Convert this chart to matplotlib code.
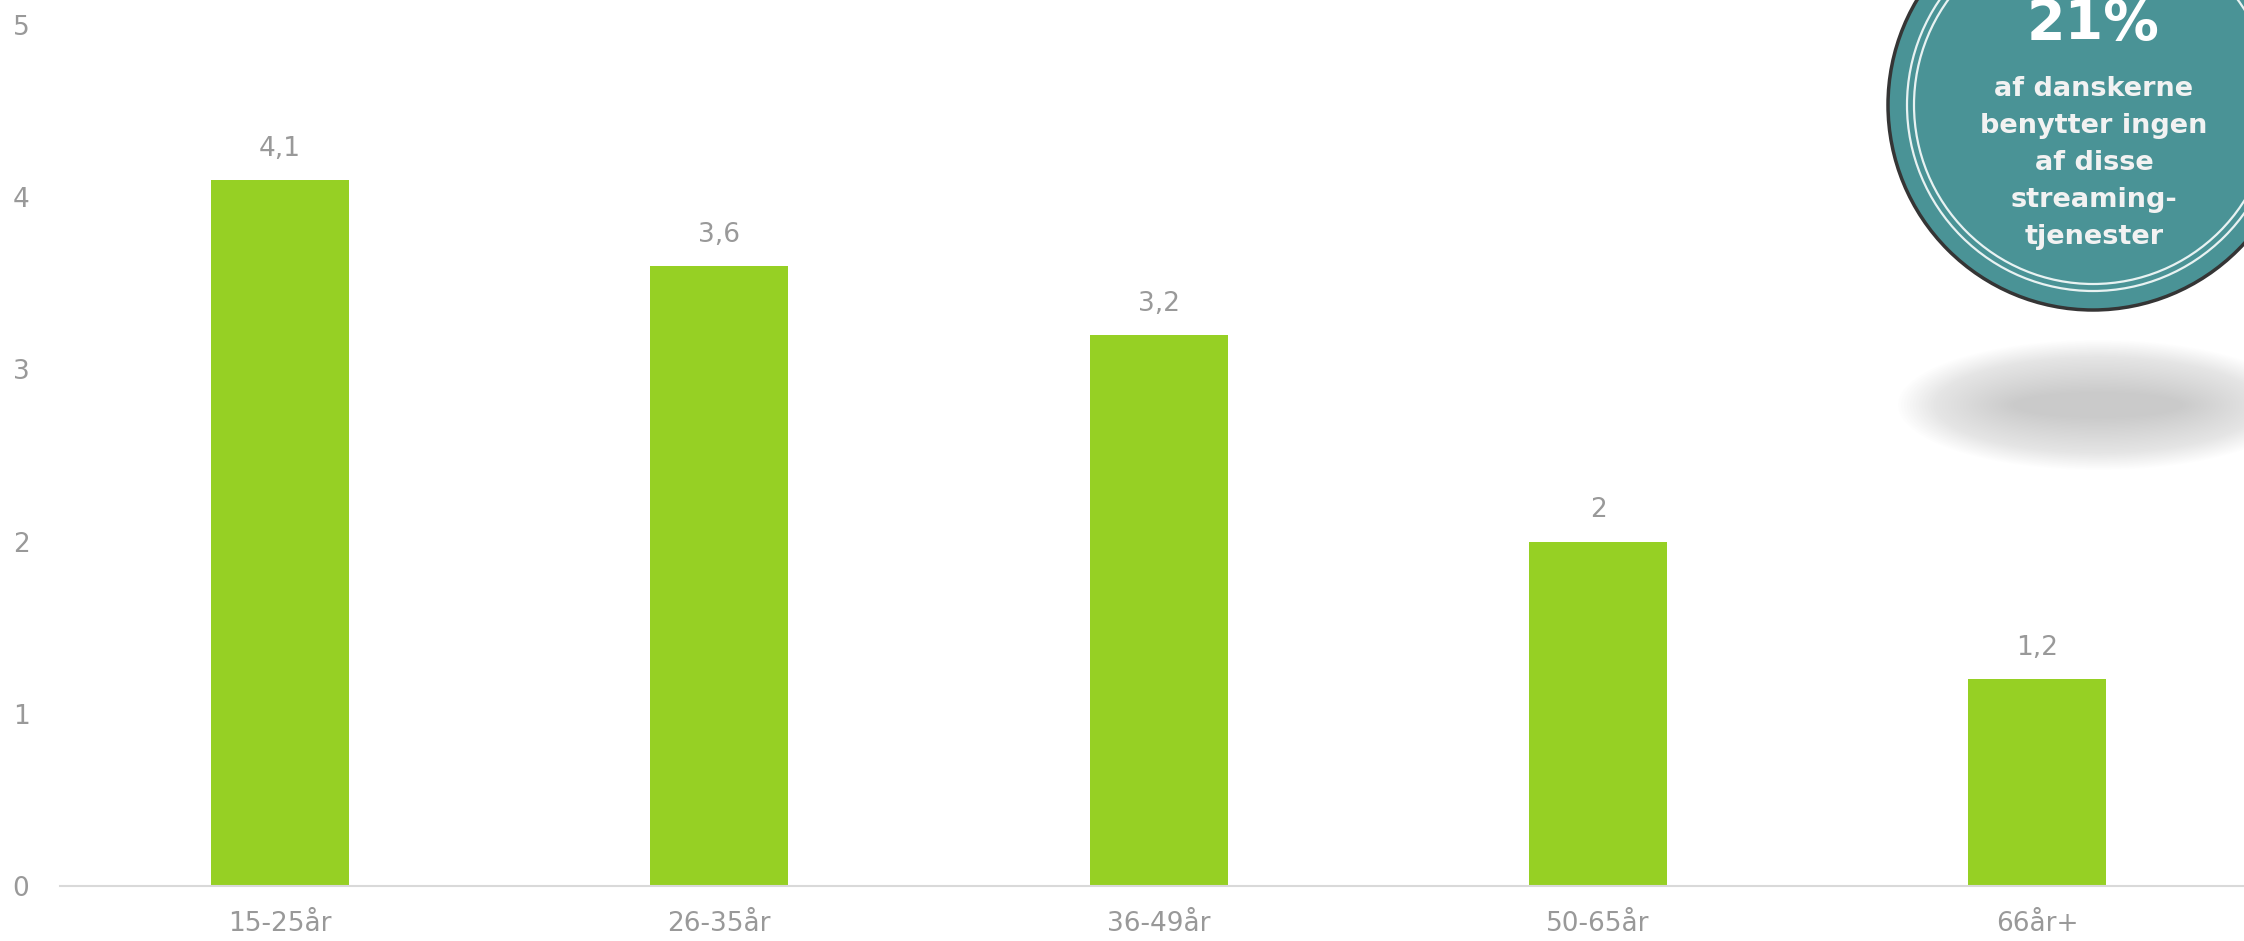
import matplotlib.pyplot as plt
from matplotlib.patches import Circle, Ellipse

# -- data
categories = ['15-25år', '26-35år', '36-49år', '50-65år', '66år+']
values = [4.1, 3.6, 3.2, 2.0, 1.2]
yticks = [0, 1, 2, 3, 4, 5]
badge_big = '21%'
badge_text = ['af danskerne', 'benytter ingen', 'af disse', 'streaming-', 'tjenester']

W, H = 2244, 941
bar_color = '#96d024'
grey = '#999999'

fig = plt.figure(figsize=(W / 100, H / 100), dpi=100)
ax = fig.add_axes([60 / W, 55 / H, (W - 60) / W, 886 / H])

x = list(range(len(categories)))
bars = ax.bar(x, values, width=0.314, color=bar_color, zorder=2)

for xi, v in zip(x, values):
    lab = f'{v:g}'.replace('.', ',')
    ax.annotate(lab, (xi, v), xytext=(0, 13), textcoords='offset points',
                ha='center', va='bottom', color=grey, fontsize=19)

ax.set_xlim(-0.5, 4.47)
ax.set_ylim(0, 5.144)
ax.set_xticks(x)
ax.set_xticklabels(categories)
ax.set_yticks(yticks)
ax.set_yticklabels([str(t) for t in yticks])
ax.tick_params(axis='both', length=0, colors=grey, labelsize=19)
ax.tick_params(axis='y', pad=22)
ax.tick_params(axis='x', pad=18)
for s in ['top', 'right', 'left']:
    ax.spines[s].set_visible(False)
ax.spines['bottom'].set_color('#d9d9d9')
ax.spines['bottom'].set_linewidth(1.5)

# -- badge overlay in pixel coords
ov = fig.add_axes([0, 0, 1, 1], facecolor='none')
ov.set_xlim(0, W)
ov.set_ylim(H, 0)
ov.axis('off')

# soft shadow under the badge (stacked faint ellipses)
n = 40
for i in range(n):
    f = i / (n - 1)
    ov.add_patch(Ellipse((2098, 405), 400 - 230 * f, 130 - 105 * f,
                         facecolor='#909090', edgecolor='none', alpha=0.012))

cx, cy, r = 2093, 105, 205
ov.add_patch(Circle((cx, cy), r, facecolor='#4a9396', edgecolor='#353535', lw=2.5))
ov.add_patch(Circle((cx, cy), r - 19, facecolor='none', edgecolor='#e8f2f2', lw=1.6))
ov.add_patch(Circle((cx, cy), r - 26, facecolor='none', edgecolor='#e8f2f2', lw=1.6))

ov.text(2093, 24, badge_big, ha='center', va='center', color='white',
        fontsize=40, fontweight='bold')
for i, line in enumerate(badge_text):
    ov.text(2094, 89 + i * 37, line, ha='center', va='center', color='#f2f2f2',
            fontsize=19.5, fontweight='bold')

fig.savefig('out.png', dpi=100)
